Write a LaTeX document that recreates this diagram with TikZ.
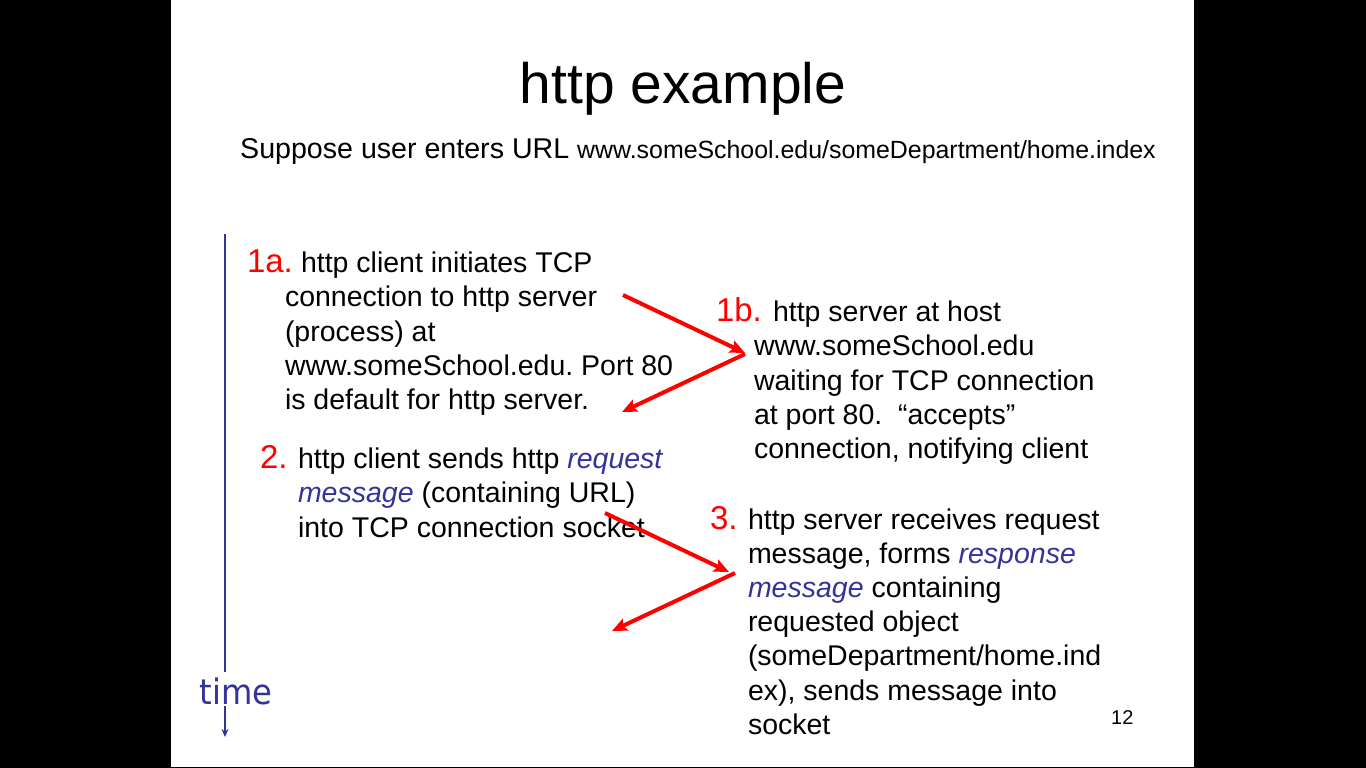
\documentclass[tikz,border=0pt]{standalone}
\usepackage{fontspec}
\setmainfont{Liberation Sans}
\newfontfamily\timefont[FakeStretch=0.92]{DejaVu Sans}
\usetikzlibrary{arrows.meta}
\definecolor{slideblue}{RGB}{51,51,153}
\definecolor{stepred}{RGB}{255,0,0}
\frenchspacing
\tikzset{
  line/.style={anchor=base west, inner sep=0pt, outer sep=0pt,
    font=\fontsize{28.5}{34}\selectfont},
  num/.style={anchor=base west, inner sep=0pt, outer sep=0pt, text=stepred,
    font=\fontsize{33}{38}\selectfont},
  flow/.style={draw=stepred, line width=4pt,
    -{Stealth[length=15pt,width=13pt,inset=3pt]}},
  timeline/.style={draw=slideblue, line width=1.6pt},
}
\newcommand{\emphblue}[1]{\textcolor{slideblue}{\itshape #1}}
\begin{document}
\begin{tikzpicture}[x=1pt,y=-1pt]
  % slide area with dark side bars
  \fill[black] (0,0) rectangle (1366,768);
  \fill[white] (171,0) rectangle (1194,767);
  \useasboundingbox (0,0) rectangle (1366,768);

  % heading
  \node[anchor=base, inner sep=0pt, font=\fontsize{57}{60}\selectfont] (title) at (683,103) {http example};
  \node[anchor=base west, inner sep=0pt, font=\fontsize{28.6}{34}\selectfont] (intro) at (240,158)
    {Suppose user enters URL {\fontsize{24.9}{30}\selectfont www.someSchool.edu/someDepartment/home.index}};

  % time axis
  \coordinate (t0) at (225,234);
  \coordinate (t1) at (225,672);
  \coordinate (t2) at (225,706);
  \coordinate (t3) at (225,737);
  \node[inner sep=0pt, text=slideblue, font=\timefont\fontsize{35}{40}\selectfont] (time) at (236,691) {time};
  \draw[timeline] (t0) -- (t1);
  \draw[timeline, -{Stealth[length=8pt,width=7pt]}] (t2) -- (t3);

  % step 1a
  \node[num]  (n1a) at (247,272) {1a.};
  \node[line] (a1) at (301,272) {http client initiates TCP};
  \node[line] (a2) at (285,306) {connection to http server};
  \node[line] (a3) at (285,341) {(process) at};
  \node[line] (a4) at (285,375) {www.someSchool.edu. Port 80};
  \node[line] (a5) at (285,409) {is default for http server.};

  % step 1b
  \node[num]  (n1b) at (716,321) {1b.};
  \node[line] (b1) at (773,321) {http server at host};
  \node[line] (b2) at (754,355) {www.someSchool.edu};
  \node[line] (b3) at (754,390) {waiting for TCP connection};
  \node[line] (b4) at (754,424) {at port 80.~ “accepts”};
  \node[line] (b5) at (754,458) {connection, notifying client};

  % step 2
  \node[num]  (n2) at (260,468) {2.};
  \node[line] (c1) at (298,468) {http client sends http \emphblue{request}};
  \node[line] (c2) at (298,502) {\emphblue{message} (containing URL)};
  \node[line] (c3) at (298,537) {into TCP connection socket};

  % step 3
  \node[num]  (n3) at (710,529) {3.};
  \node[line] (d1) at (748,529) {http server receives request};
  \node[line] (d2) at (748,563) {message, forms \emphblue{response}};
  \node[line] (d3) at (748,597) {\emphblue{message} containing};
  \node[line] (d4) at (748,631) {requested object};
  \node[line] (d5) at (748,665) {(someDepartment/home.ind};
  \node[line] (d6) at (748,700) {ex), sends message into};
  \node[line] (d7) at (748,734) {socket};

  % slide number
  \node[anchor=base west, inner sep=0pt, font=\fontsize{20}{24}\selectfont] (pg) at (1111,724) {12};

  % message exchanges
  \coordinate (p1) at (623,295);
  \coordinate (p2) at (745,353);
  \coordinate (p3) at (745,354);
  \coordinate (p4) at (622,412);
  \draw[flow] (p1) -- (p2);
  \draw[flow] (p3) -- (p4);

  \coordinate (q1) at (605,513);
  \coordinate (q2) at (729,572);
  \coordinate (q3) at (735,573);
  \coordinate (q4) at (612,631);
  \draw[flow] (q1) -- (q2);
  \draw[flow] (q3) -- (q4);
\end{tikzpicture}
\end{document}
